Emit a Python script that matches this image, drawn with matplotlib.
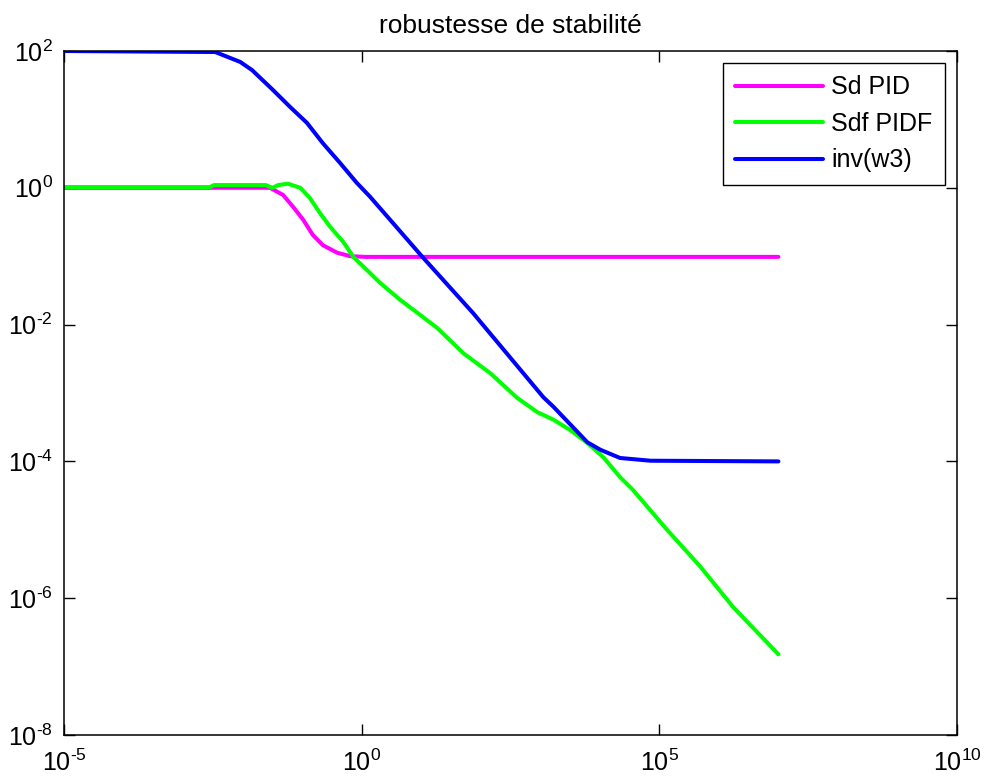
import numpy as np
import matplotlib
matplotlib.use("Agg")
import matplotlib.pyplot as plt
from matplotlib.ticker import FixedLocator, FuncFormatter, NullLocator

plt.rcParams["font.family"] = ["Liberation Sans", "DejaVu Sans"]
plt.rcParams["mathtext.fontset"] = "custom"
plt.rcParams["mathtext.rm"] = "Liberation Sans"
plt.rcParams["mathtext.it"] = "Liberation Sans:italic"
plt.rcParams["mathtext.bf"] = "Liberation Sans:bold"
plt.rcParams["axes.unicode_minus"] = False

# Frequency responses, stored as log10(omega) and log10(|S|)
sd_pid_logw = [-5.0, -2.16, -1.54, -1.32, -1.15, -0.98, -0.82, -0.65, -0.41, -0.19, 0.06, 7.0]
sd_pid_logmag = [0.0, 0.0, 0.0, -0.105, -0.28, -0.47, -0.69, -0.84, -0.95, -1.0, -1.01, -1.01]

sdf_pidf_logw = [-5.0, -2.55, -2.48, -1.61, -1.50, -1.40, -1.24, -1.03, -0.87, -0.70, -0.53,
                 -0.31, -0.14, 0.31, 0.65, 1.03, 1.27, 1.71, 2.16, 2.61, 2.95, 3.22, 3.50,
                 3.79, 4.06, 4.34, 4.56, 5.13, 5.69, 6.24, 7.0]
sdf_pidf_logmag = [0.01, 0.01, 0.04, 0.04, 0.0, 0.04, 0.06, 0.0, -0.15, -0.37, -0.57,
                   -0.79, -1.01, -1.39, -1.64, -1.89, -2.05, -2.42, -2.71, -3.07, -3.28, -3.39, -3.54,
                   -3.73, -3.94, -4.23, -4.42, -5.00, -5.54, -6.13, -6.82]

inv_w3_logw = [-5.0, -2.46, -2.33, -2.04, -1.84, -1.49, -1.20, -0.92, -0.65, -0.36, -0.08,
               0.14, 1.02, 1.87, 3.05, 3.22, 3.79, 4.01, 4.34, 4.85, 7.0]
inv_w3_logmag = [2.0, 1.985, 1.94, 1.84, 1.72, 1.43, 1.18, 0.95, 0.65, 0.36, 0.07,
                 -0.13, -1.01, -1.83, -3.06, -3.20, -3.72, -3.83, -3.95, -3.99, -4.0]

labels = ["Sd PID", "Sdf PIDF", "inv(w3)"]
colors = ["#FF00FF", "#00FF00", "#0000FF"]

x_ticks = [1e-5, 1e0, 1e5, 1e10]
y_ticks = [1e-8, 1e-6, 1e-4, 1e-2, 1e0, 1e2]


def pow10_label(val, pos):
    exp = int(round(np.log10(val)))
    if exp < 0:
        return r"$\mathregular{10^{\text{-}%d}}$" % (-exp)
    return r"$\mathregular{10^{%d}}$" % exp


fig = plt.figure(figsize=(9.84, 7.78), dpi=100)
ax = fig.add_axes([64 / 984, 1 - 735 / 778, (957 - 64) / 984, (735 - 51) / 778])

series = [(sd_pid_logw, sd_pid_logmag), (sdf_pidf_logw, sdf_pidf_logmag), (inv_w3_logw, inv_w3_logmag)]
for (lw_, lm_), lab, col in zip(series, labels, colors):
    ax.loglog(10.0 ** np.asarray(lw_), 10.0 ** np.asarray(lm_), color=col, lw=2.9, label=lab,
              solid_joinstyle="round", solid_capstyle="round")

ax.set_xlim(1e-5, 1e10)
ax.set_ylim(1e-8, 1e2)
ax.xaxis.set_major_locator(FixedLocator(x_ticks))
ax.yaxis.set_major_locator(FixedLocator(y_ticks))
ax.xaxis.set_minor_locator(NullLocator())
ax.yaxis.set_minor_locator(NullLocator())
ax.xaxis.set_major_formatter(FuncFormatter(pow10_label))
ax.yaxis.set_major_formatter(FuncFormatter(pow10_label))

ax.tick_params(axis="both", which="major", direction="in", length=8, width=1,
               top=True, right=True, labelsize=18, color="black")
ax.tick_params(axis="x", pad=10.5)
ax.tick_params(axis="y", pad=8)
for sp in ax.spines.values():
    sp.set_linewidth(1.1)
    sp.set_color("black")

ax.set_title("robustesse de stabilité", fontsize=19, pad=13)

leg = ax.legend(loc="upper right", bbox_to_anchor=(945 / 984, 1 - 63 / 778),
                bbox_transform=fig.transFigure, fontsize=18, frameon=True, fancybox=False,
                edgecolor="black", framealpha=1, handlelength=3.5, handletextpad=0.35,
                borderpad=0.5, labelspacing=0.5, borderaxespad=0)
leg.get_frame().set_linewidth(1.0)

fig.savefig("out.png", dpi=100, facecolor="white")
